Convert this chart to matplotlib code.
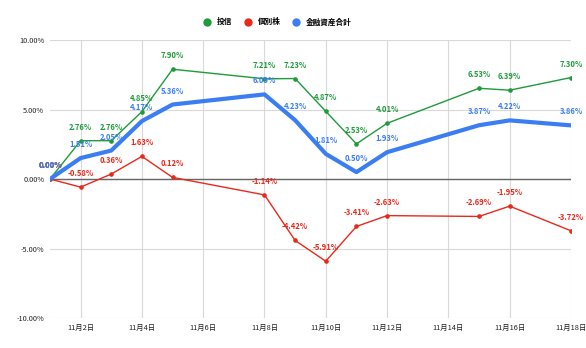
import matplotlib as mpl
mpl.use('Agg')
import matplotlib.pyplot as plt
import datetime as dt

plt.rcParams['font.family'] = ['Noto Sans CJK JP', 'DejaVu Sans']

days = [1, 2, 3, 4, 5, 8, 9, 10, 11, 12, 15, 16, 18]
toushin = [0.00, 2.76, 2.76, 4.85, 7.90, 7.21, 7.23, 4.87, 2.53, 4.01, 6.53, 6.39, 7.30]
kobetsu = [0.00, -0.58, 0.36, 1.63, 0.12, -1.14, -4.42, -5.91, -3.41, -2.63, -2.69, -1.95, -3.72]
goukei = [0.00, 1.51, 2.05, 4.17, 5.36, 6.09, 4.23, 1.81, 0.50, 1.93, 3.87, 4.22, 3.86]
names = ['投信', '個別株', '金融資産合計']
tick_days = [2, 4, 6, 8, 10, 12, 14, 16, 18]
y_ticks = [-10, -5, 0, 5, 10]

GREEN = '#1e9b3a'
RED = '#e8291c'
BLUE = '#3b7df2'

dates = [dt.date(2021, 11, d) for d in days]

fig = plt.figure(figsize=(5.86, 3.48), dpi=100)
ax = fig.add_axes([0.0853, 0.086, 0.8890, 0.799])

ax.plot(dates, toushin, color=GREEN, lw=1.0, marker='o', ms=2.3, zorder=3)
ax.plot(dates, kobetsu, color=RED, lw=1.0, marker='o', ms=2.3, zorder=3)
ax.plot(dates, goukei, color=BLUE, lw=3.0, zorder=4)

# value labels above each point
for series, col in [(toushin, GREEN), (kobetsu, RED), (goukei, BLUE)]:
    for d, v in zip(dates, series):
        ax.annotate('%.2f%%' % v, (d, v), xytext=(0, 6.5), textcoords='offset points',
                    ha='center', va='bottom', fontsize=5.5, color=col,
                    fontweight='bold', zorder=5)

pad = dt.timedelta(hours=1.6)
ax.set_xlim(dates[0] - pad, dates[-1] + pad)
ax.set_ylim(-10, 10)
ax.set_yticks(y_ticks)
ax.set_yticklabels(['%.2f%%' % t for t in y_ticks])
ax.set_xticks([dt.date(2021, 11, d) for d in tick_days])
ax.set_xticklabels(['11月%d日' % d for d in tick_days])

ax.grid(True, color='#d9d9d9', lw=0.8)
ax.axhline(0, color='#666666', lw=1.0, zorder=2)
for s in ax.spines.values():
    s.set_visible(False)
ax.tick_params(length=0, labelsize=5.3, colors='#222222', pad=4)

handles = [plt.Line2D([], [], ls='none', marker='o', ms=5, color=c) for c in (GREEN, RED, BLUE)]
leg = fig.legend(handles, names, loc='center', bbox_to_anchor=(0.47, 0.937), ncol=3,
                 frameon=False, fontsize=5.5, handletextpad=0.3, columnspacing=1.0)
for t in leg.get_texts():
    t.set_fontweight('bold')

fig.savefig('out.png', dpi=100)
